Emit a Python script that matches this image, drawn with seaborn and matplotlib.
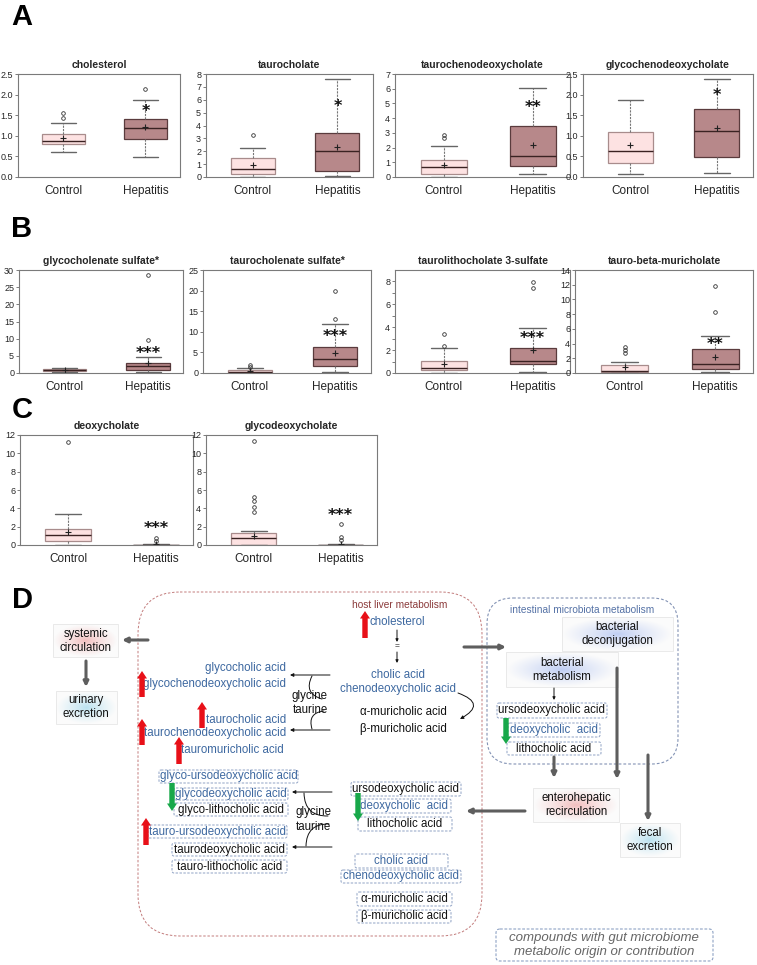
import numpy as np
import matplotlib
matplotlib.use("Agg")
import matplotlib.pyplot as plt
from matplotlib.patches import FancyBboxPatch, FancyArrowPatch, Rectangle
import seaborn as sns

# ---- box plot summaries ----
metabolites = ["cholesterol", "taurocholate", "taurochenodeoxycholate", "glycochenodeoxycholate",
               "glycocholenate sulfate*", "taurocholenate sulfate*", "taurolithocholate 3-sulfate",
               "tauro-beta-muricholate", "deoxycholate", "glycodeoxycholate"]
groups = ["Control", "Hepatitis"]

ctrl_lo = [0.60, 0.00, 0.00, 0.07, 0.30, 0.00, 0.00, 0.00, 0.00, 0.00]
ctrl_q1 = [0.81, 0.26, 0.23, 0.34, 0.55, 0.10, 0.25, 0.10, 0.44, 0.05]
ctrl_med = [0.87, 0.65, 0.68, 0.63, 0.85, 0.30, 0.44, 0.30, 1.06, 0.75]
ctrl_q3 = [1.04, 1.45, 1.13, 1.09, 1.10, 0.70, 1.09, 1.04, 1.75, 1.35]
ctrl_hi = [1.30, 2.26, 2.14, 1.86, 1.40, 1.20, 2.20, 1.54, 3.35, 1.55]
ctrl_mean = [0.94, 0.96, 0.84, 0.77, 0.90, 0.50, 0.80, 0.80, 1.45, 1.00]
ctrl_out = [[1.42, 1.56], [3.27], [2.65, 2.85], [], [], [1.5, 1.9], [2.38, 3.38],
            [2.76, 3.1, 3.57], [11.2], [3.55, 4.2, 4.85, 5.2, 11.4]]

hep_lo = [0.48, 0.05, 0.20, 0.10, 0.30, 0.30, 0.10, 0.10, 0.00, 0.00]
hep_q1 = [0.92, 0.49, 0.72, 0.49, 0.95, 1.70, 0.80, 0.60, 0.00, 0.00]
hep_med = [1.19, 2.00, 1.44, 1.12, 2.00, 3.40, 1.09, 1.20, 0.02, 0.02]
hep_q3 = [1.41, 3.40, 3.48, 1.66, 2.80, 6.20, 2.20, 3.26, 0.05, 0.05]
hep_hi = [1.88, 7.64, 6.03, 2.37, 4.70, 11.9, 3.97, 4.97, 0.10, 0.10]
hep_mean = [1.21, 2.36, 2.17, 1.18, 2.90, 4.80, 2.03, 2.20, 0.10, 0.12]
hep_out = [[2.13], [], [], [], [9.5, 28.5], [13.2, 20.0], [7.4, 7.94], [8.3, 11.8],
           [0.4, 0.76], [0.5, 0.85, 2.25]]

stars = ["*", "*", "**", "*", "***", "***", "***", "**", "***", "***"]
star_y = [1.60, 5.45, 4.72, 1.97, 5.7, 8.8, 3.0, 3.9, 1.8, 3.2]

y_max = [2.5, 8, 7, 2.5, 30, 25, 9, 14, 12, 12]
y_step = [0.5, 1, 1, 0.5, 5, 5, 2, 2, 2, 2]

CTRL_FACE, CTRL_EDGE = "#fde2e2", "#a88c8c"
HEP_FACE, HEP_EDGE = "#b7888a", "#5a3b3d"
BLUE_TXT = "#3d68a0"
RED = "#e81018"
GREEN = "#18a84a"
GRAY = "#5e5e5e"
NARROW = ["Liberation Sans Narrow", "Liberation Sans", "DejaVu Sans"]
ARIAL = ["Liberation Sans", "DejaVu Sans"]
FS = 8.3  # diagram text size

W, H = 757, 965

sns.set_style("white")
plt.rcParams["font.family"] = NARROW
fig = plt.figure(figsize=(W / 100, H / 100), dpi=100)

# axes rectangles in pixels (x0, y0, x1, y1)
rects = [(18, 74, 180, 177), (206, 74, 373, 177), (395, 74, 570, 177), (583, 74, 753, 177),
         (19, 270, 183, 373), (203, 270, 371, 373), (395, 270, 570, 373), (575, 270, 753, 373),
         (20, 435, 193, 545), (206, 435, 377, 545)]


def px_axes(r):
    x0, y0, x1, y1 = r
    return fig.add_axes([x0 / W, 1 - y1 / H, (x1 - x0) / W, (y1 - y0) / H])


for i, name in enumerate(metabolites):
    ax = px_axes(rects[i])
    stats = [
        dict(whislo=ctrl_lo[i], q1=ctrl_q1[i], med=ctrl_med[i], q3=ctrl_q3[i],
             whishi=ctrl_hi[i], mean=ctrl_mean[i], fliers=ctrl_out[i]),
        dict(whislo=hep_lo[i], q1=hep_q1[i], med=hep_med[i], q3=hep_q3[i],
             whishi=hep_hi[i], mean=hep_mean[i], fliers=hep_out[i]),
    ]
    bp = ax.bxp(stats, positions=[0, 1], widths=0.52, capwidths=0.3, patch_artist=True,
                showmeans=True,
                whiskerprops=dict(color="#777777", lw=0.8, ls=(0, (2, 1))),
                capprops=dict(color="#666666", lw=1.0),
                medianprops=dict(color="#3a2222", lw=1.0),
                meanprops=dict(marker="+", markeredgecolor="#222222", markersize=4, mew=0.8),
                flierprops=dict(marker="o", markerfacecolor="none", markeredgecolor="#333333",
                                markersize=2.6, mew=0.6))
    bp["boxes"][0].set(facecolor=CTRL_FACE, edgecolor=CTRL_EDGE, lw=0.9)
    bp["boxes"][1].set(facecolor=HEP_FACE, edgecolor=HEP_EDGE, lw=0.9)

    ax.set_xlim(-0.55, 1.42)
    ax.set_ylim(0, y_max[i])
    ticks = np.arange(0, y_max[i] + 1e-9, y_step[i])
    ax.set_yticks(ticks)
    if y_step[i] < 1:
        ax.set_yticklabels([f"{t:.1f}" for t in ticks])
    else:
        ax.set_yticklabels([f"{t:.0f}" for t in ticks])
    if name == "taurolithocholate 3-sulfate":
        ax.set_yticks(np.arange(1, 9, 2), minor=True)
    ax.set_xticks([0, 1])
    ax.set_xticklabels(groups, fontsize=8.5)
    ax.tick_params(axis="x", length=0, pad=6)
    ax.tick_params(axis="y", which="both", length=2, width=0.6, pad=1.5, labelsize=6.5,
                   color="#666666", left=True)
    for s in ax.spines.values():
        s.set_color("#7a7a7a")
        s.set_linewidth(0.8)
    ax.set_title(name, fontsize=7.5, fontweight="bold", pad=4)
    ax.text(1, star_y[i], stars[i], ha="center", va="center", fontsize=11.5,
            fontweight="bold", family="DejaVu Sans", color="#111111", zorder=5)

# ---- overlay for panel letters and pathway diagram ----
ov = fig.add_axes([0, 0, 1, 1])
ov.set_xlim(0, W)
ov.set_ylim(H, 0)
ov.axis("off")

for letter, (lx, ly) in zip("ABCD", [(22, 17), (22, 229), (22, 410), (22, 600)]):
    ov.text(lx, ly, letter, ha="center", va="center", fontsize=21, fontweight="bold",
            family=ARIAL, color="black")


def t(x, y, s, color="#111111", ha="center", size=FS, style="normal"):
    ov.text(x, y, s, ha=ha, va="center", fontsize=size, color=color, family=ARIAL,
            style=style, zorder=4, linespacing=1.3)


def dbox(x0, y0, x1, y1, ec="#8ea2c4", lw=0.7, pad=2):
    ov.add_patch(FancyBboxPatch((x0, y0), x1 - x0, y1 - y0,
                                boxstyle=f"round,pad=0,rounding_size={pad}",
                                fill=False, ec=ec, lw=lw, ls=(0, (2.5, 1.5)), zorder=3))


def grad_box(x0, y0, x1, y1, rgb, edge="#e6e6e6"):
    yy, xx = np.mgrid[-1:1:40j, -1:1:60j]
    r = np.clip(np.sqrt(xx ** 2 + yy ** 2), 0, 1) ** 0.8
    img = np.ones((40, 60, 3))
    for k in range(3):
        img[..., k] = rgb[k] + (0.985 - rgb[k]) * r
    ov.imshow(img, extent=(x0, x1, y1, y0), aspect="auto", interpolation="bilinear", zorder=1)
    ov.add_patch(Rectangle((x0, y0), x1 - x0, y1 - y0, fill=False, ec=edge, lw=0.6, zorder=2))


def arrow(p0, p1, color="#111111", style="-|>", lw=0.7, ms=5, rad=0.0, z=3):
    ov.add_patch(FancyArrowPatch(p0, p1, arrowstyle=style, color=color, lw=lw,
                                 mutation_scale=ms, shrinkA=0, shrinkB=0,
                                 connectionstyle=f"arc3,rad={rad}", zorder=z))


def fat(p0, p1, color):
    ov.add_patch(FancyArrowPatch(p0, p1,
                                 arrowstyle="simple,head_length=0.9,head_width=1.2,tail_width=0.65",
                                 color=color, lw=0, mutation_scale=6, shrinkA=0, shrinkB=0, zorder=5))


def gray_arrow(p0, p1):
    arrow(p0, p1, color=GRAY, style="-|>", lw=2.2, ms=7)


# compartments
ov.add_patch(FancyBboxPatch((138, 592), 344, 344, boxstyle="round,pad=0,rounding_size=42",
                            fill=False, ec="#c27b7b", lw=0.7, ls=(0, (2.5, 1.8)), zorder=2))
ov.add_patch(FancyBboxPatch((487, 598), 191, 166, boxstyle="round,pad=0,rounding_size=26",
                            fill=False, ec="#8393b5", lw=0.8, ls=(0, (2.5, 1.8)), zorder=2))
t(400, 605, "host liver metabolism", color="#8b3a3a", size=7.3)
t(582, 610, "intestinal microbiota metabolism", color="#5572a6", size=7.3)

# liver: cholesterol to primary bile acids
fat((365, 638), (365, 611), RED)
t(370, 622, "cholesterol", color=BLUE_TXT, ha="left")
arrow((397, 630), (397, 642), ms=4)
t(397, 647, "=", size=6)
arrow((397, 652), (397, 663), ms=4)
t(398, 675, "cholic acid", color=BLUE_TXT)
t(398, 689, "chenodeoxycholic acid", color=BLUE_TXT)
arrow((458, 693), (460, 719), rad=-1.1, ms=5)
t(403, 712, "α-muricholic acid")
t(403, 729, "β-muricholic acid")

# liver: conjugation (upper)
t(286, 668, "glycocholic acid", color=BLUE_TXT, ha="right")
t(286, 684, "glycochenodeoxycholic acid", color=BLUE_TXT, ha="right")
t(286, 720, "taurocholic acid", color=BLUE_TXT, ha="right")
t(286, 733, "taurochenodeoxycholic acid", color=BLUE_TXT, ha="right")
t(284, 750, "tauromuricholic acid", color=BLUE_TXT, ha="right")
fat((142, 697), (142, 671), RED)
fat((202, 728), (202, 702), RED)
fat((142, 745), (142, 719), RED)
fat((179, 764), (179, 737), RED)
t(310, 696, "glycine")
t(310, 710, "taurine")
arrow((330, 675), (290, 675), ms=5)
arrow((330, 730), (290, 730), ms=5)
arrow((312, 676), (322, 699), style="-", rad=0.6)
arrow((324, 711), (312, 729), style="-", rad=0.6)

# liver: conjugation (lower)
for (x0, y0, x1, y1, s, c) in [
        (159, 770, 298, 783, "glyco-ursodeoxycholic acid", BLUE_TXT),
        (174, 788, 288, 800, "glycodeoxycholic acid", BLUE_TXT),
        (174, 803, 288, 816, "glyco-lithocholic acid", "#111111"),
        (148, 825, 287, 838, "tauro-ursodeoxycholic acid", BLUE_TXT),
        (172, 843, 287, 856, "taurodeoxycholic acid", "#111111"),
        (172, 860, 287, 873, "tauro-lithocholic acid", "#111111")]:
    dbox(x0, y0, x1, y1)
    t((x0 + x1) / 2, (y0 + y1) / 2, s, color=c)
fat((172, 783), (172, 811), GREEN)
fat((146, 845), (146, 818), RED)
t(313, 812, "glycine")
t(313, 827, "taurine")
arrow((332, 792), (292, 792), ms=5)
arrow((332, 847), (292, 847), ms=5)
arrow((304, 793), (328, 816), style="-", rad=0.5)
arrow((329, 824), (306, 846), style="-", rad=0.5)

# liver: returned bile acids
for (x0, y0, x1, y1, s, c) in [
        (351, 782, 461, 796, "ursodeoxycholic acid", "#111111"),
        (358, 799, 451, 813, "deoxycholic  acid", BLUE_TXT),
        (358, 817, 452, 831, "lithocholic acid", "#111111"),
        (355, 854, 448, 868, "cholic acid", BLUE_TXT),
        (341, 870, 461, 883, "chenodeoxycholic acid", BLUE_TXT),
        (357, 892, 452, 906, "α-muricholic acid", "#111111"),
        (357, 910, 451, 923, "β-muricholic acid", "#111111")]:
    dbox(x0, y0, x1, y1)
    t((x0 + x1) / 2, (y0 + y1) / 2, s, color=c)
fat((358, 793), (358, 821), GREEN)

# systemic side
grad_box(53, 624, 118, 657, (0.95, 0.74, 0.74))
t(86, 641, "systemic\ncirculation")
grad_box(56, 691, 117, 724, (0.72, 0.88, 0.94))
t(86, 707, "urinary\nexcretion")
gray_arrow((148, 640), (122, 640))
gray_arrow((86, 661), (86, 687))

# intestine
gray_arrow((464, 647), (506, 647))
grad_box(562, 617, 673, 651, (0.74, 0.80, 0.95))
t(617, 634, "bacterial\ndeconjugation")
grad_box(506, 652, 618, 687, (0.74, 0.80, 0.95))
t(562, 670, "bacterial\nmetabolism")
arrow((554, 688), (554, 700), ms=4)
for (x0, y0, x1, y1, s, c) in [
        (497, 703, 607, 718, "ursodeoxycholic acid", "#111111"),
        (508, 723, 600, 737, "deoxycholic  acid", BLUE_TXT),
        (507, 742, 601, 755, "lithocholic acid", "#111111")]:
    dbox(x0, y0, x1, y1)
    t((x0 + x1) / 2, (y0 + y1) / 2, s, color=c)
fat((506, 718), (506, 744), GREEN)
gray_arrow((617, 668), (617, 779))
gray_arrow((554, 757), (554, 778))
gray_arrow((648, 755), (648, 821))
grad_box(533, 788, 619, 822, (0.95, 0.74, 0.74))
t(576, 805, "enterohepatic\nrecirculation")
gray_arrow((525, 811), (466, 811))
grad_box(620, 823, 680, 857, (0.72, 0.88, 0.94))
t(650, 840, "fecal\nexcretion")

# legend
dbox(496, 929, 713, 961, ec="#8ea2c4", lw=0.8, pad=4)
t(604, 945, "compounds with gut microbiome\nmetabolic origin or contribution",
  color="#666666", size=9.5, style="italic")

fig.savefig("out.png", dpi=100)
